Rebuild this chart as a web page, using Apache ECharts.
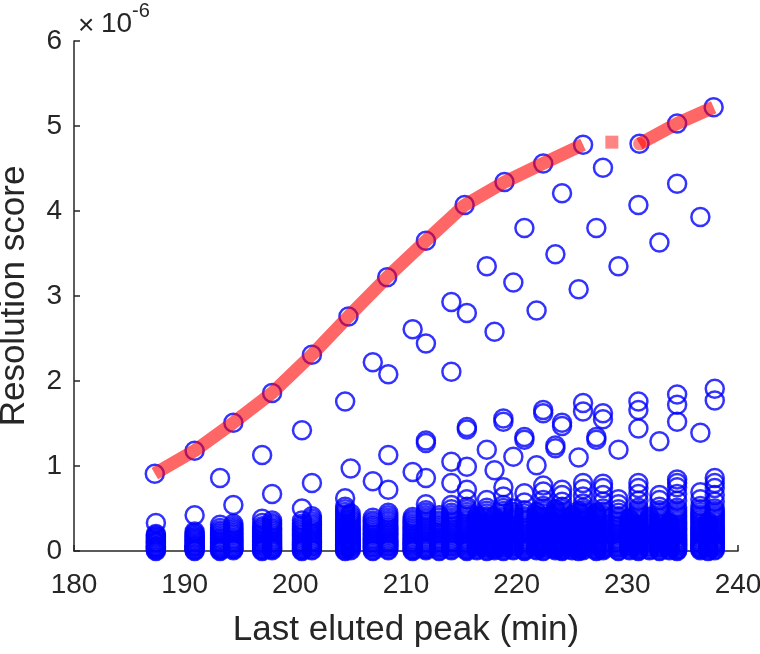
<!DOCTYPE html>
<html>
<head>
<meta charset="utf-8">
<script src="https://cdn.jsdelivr.net/npm/echarts@6/dist/echarts.min.js"></script>
<style>html,body{margin:0;padding:0;background:#fff}#c{width:760px;height:654px}</style>
</head>
<body>
<div id="c"></div>
<script>
// Values in units of 1e-6
const xTicks = [180, 190, 200, 210, 220, 230, 240];
const yTicks = [0, 1, 2, 3, 4, 5, 6];

// Upper envelope (red line), index 12 is the isolated point
const envX = [187.3, 190.9, 194.4, 197.9, 201.5, 204.8, 208.3, 211.8, 215.3, 218.9, 222.4, 226.0, 228.6, 231.1, 234.5, 237.8];
const envY = [0.91, 1.18, 1.51, 1.86, 2.31, 2.76, 3.22, 3.65, 4.07, 4.34, 4.56, 4.78, 4.81, 4.79, 5.03, 5.22];

// Scatter columns (x position and the scores found there)
const colX = [187.4, 190.9, 193.2, 194.4, 197.0, 197.9, 200.6, 201.5, 204.5, 205.0,
              207.0, 208.4, 210.6, 211.8, 213.0, 214.1, 215.5, 216.4, 217.3, 218.0,
              218.8, 219.7, 220.7, 221.8, 222.4, 223.5, 224.1, 225.0, 225.6, 226.0,
              227.2, 227.8, 229.2, 230.2, 231.0, 232.0, 232.9, 233.8, 234.5, 236.6,
              237.3, 237.9];
const colY = [
  [0.00,0.02,0.04,0.06,0.09,0.11,0.14,0.17,0.20,0.33],
  [0.00,0.02,0.05,0.07,0.10,0.13,0.16,0.19,0.23,0.42],
  [0.00,0.02,0.04,0.07,0.10,0.13,0.16,0.20,0.24,0.31,0.86],
  [0.01,0.03,0.06,0.09,0.12,0.15,0.19,0.23,0.27,0.32,0.54],
  [0.00,0.02,0.05,0.08,0.11,0.14,0.17,0.21,0.25,0.29,0.38,1.13],
  [0.01,0.03,0.06,0.09,0.12,0.16,0.20,0.24,0.28,0.33,0.67],
  [0.00,0.02,0.05,0.08,0.11,0.15,0.19,0.23,0.27,0.32,0.50,1.42],
  [0.01,0.04,0.07,0.10,0.13,0.17,0.21,0.25,0.30,0.35,0.41,0.80],
  [0.00,0.02,0.05,0.08,0.11,0.14,0.18,0.22,0.26,0.30,0.35,0.40,0.46,0.52,0.62,1.76],
  [0.01,0.04,0.07,0.10,0.13,0.16,0.20,0.24,0.28,0.33,0.38,0.44,0.97],
  [0.00,0.03,0.06,0.09,0.12,0.15,0.19,0.23,0.27,0.31,0.36,0.82,2.22],
  [0.01,0.04,0.07,0.10,0.13,0.17,0.21,0.25,0.29,0.34,0.39,0.45,0.72,1.13,2.08],
  [0.00,0.02,0.05,0.08,0.11,0.14,0.18,0.22,0.26,0.30,0.35,0.40,0.93,2.61],
  [0.01,0.03,0.06,0.09,0.12,0.16,0.20,0.24,0.28,0.32,0.37,0.42,0.48,0.55,0.86,1.27,1.30,2.44],
  [0.00,0.03,0.06,0.09,0.12,0.15,0.19,0.23,0.27,0.31,0.36,0.42],
  [0.01,0.04,0.07,0.10,0.13,0.17,0.21,0.25,0.29,0.34,0.39,0.45,0.54,0.80,1.05,2.11,2.93],
  [0.00,0.02,0.05,0.08,0.11,0.14,0.18,0.22,0.26,0.30,0.35,0.40,0.46,0.52,0.61,0.72,0.99,1.43,1.46,2.80],
  [0.01,0.04,0.07,0.10,0.14,0.18,0.22,0.26,0.31,0.36,0.41],
  [0.00,0.03,0.06,0.09,0.12,0.16,0.20,0.24,0.28,0.33,0.38,0.44,0.51,0.60,1.19,3.35],
  [0.02,0.05,0.08,0.12,0.16,0.20,0.25,0.30,0.35,0.40,0.95,2.58],
  [0.00,0.03,0.06,0.09,0.12,0.15,0.19,0.23,0.27,0.31,0.36,0.41,0.47,0.54,0.64,0.75,1.52,1.56],
  [0.01,0.04,0.07,0.10,0.14,0.18,0.22,0.26,0.30,0.35,0.40,0.46,0.50,1.11,3.16],
  [0.00,0.02,0.05,0.08,0.11,0.14,0.18,0.22,0.26,0.31,0.36,0.41,0.48,0.57,0.68,1.31,1.34,3.80],
  [0.01,0.04,0.07,0.10,0.13,0.17,0.21,0.25,0.29,0.34,0.39,0.46,1.01,2.83],
  [0.00,0.03,0.06,0.09,0.12,0.15,0.19,0.23,0.27,0.31,0.36,0.41,0.47,0.53,0.60,0.70,0.77,1.62,1.66],
  [0.01,0.03,0.06,0.09,0.13,0.17,0.21,0.25,0.29,0.34,0.39,0.45,0.49,1.21,1.24,3.49],
  [0.00,0.02,0.05,0.08,0.11,0.14,0.18,0.22,0.26,0.30,0.35,0.40,0.46,0.52,0.58,0.66,0.72,1.47,1.51,4.21],
  [0.01,0.04,0.07,0.10,0.14,0.18,0.22,0.27,0.32,0.37,0.42],
  [0.00,0.03,0.06,0.09,0.12,0.16,0.20,0.24,0.28,0.33,0.38,0.44,0.47,1.10,3.08],
  [0.01,0.04,0.07,0.10,0.13,0.17,0.21,0.25,0.29,0.34,0.39,0.45,0.51,0.56,0.64,0.73,0.80,1.64,1.74],
  [0.00,0.02,0.05,0.08,0.11,0.15,0.19,0.23,0.27,0.31,0.36,0.41,0.45,1.31,1.34,3.80],
  [0.01,0.03,0.06,0.09,0.12,0.16,0.20,0.24,0.28,0.33,0.38,0.43,0.50,0.58,0.66,0.74,0.79,1.55,1.62,4.51],
  [0.00,0.03,0.06,0.09,0.12,0.15,0.19,0.23,0.27,0.31,0.36,0.41,0.49,0.55,0.61,1.19,3.35],
  [0.01,0.04,0.07,0.11,0.15,0.19,0.23,0.28,0.33,0.38],
  [0.00,0.02,0.05,0.08,0.11,0.14,0.18,0.22,0.26,0.30,0.35,0.40,0.45,0.51,0.59,0.67,0.74,0.80,1.44,1.66,1.76,4.07],
  [0.01,0.04,0.08,0.12,0.16,0.20,0.25,0.30,0.35,0.40],
  [0.00,0.03,0.06,0.09,0.12,0.16,0.20,0.24,0.28,0.32,0.37,0.42,0.48,0.52,0.60,0.66,1.29,3.63],
  [0.01,0.04,0.07,0.11,0.15,0.19,0.23,0.28,0.33],
  [0.00,0.02,0.05,0.08,0.11,0.14,0.18,0.22,0.26,0.30,0.35,0.40,0.45,0.51,0.59,0.67,0.75,0.80,0.84,1.52,1.72,1.84,4.32],
  [0.01,0.03,0.06,0.09,0.12,0.16,0.20,0.24,0.28,0.33,0.38,0.43,0.49,0.53,0.61,0.69,1.39,3.93],
  [0.00,0.03,0.07,0.11,0.15,0.19,0.24,0.29,0.34],
  [0.01,0.04,0.07,0.10,0.13,0.17,0.21,0.25,0.29,0.34,0.39,0.44,0.50,0.58,0.66,0.74,0.80,0.86,1.77,1.91]
];
// Further low scores in the same columns (dense band near zero)
const lowY = [
  [0.01,0.03,0.05,0.075,0.10,0.125,0.155,0.185],
  [0.01,0.035,0.06,0.085,0.115,0.145,0.175,0.21],
  [0.01,0.03,0.055,0.085,0.115,0.145,0.18,0.22,0.27],
  [0.02,0.045,0.075,0.105,0.135,0.17,0.21,0.25,0.295],
  [0.01,0.035,0.065,0.095,0.125,0.155,0.19,0.23,0.27,0.33],
  [0.02,0.045,0.075,0.105,0.14,0.18,0.22,0.26,0.305,0.36],
  [0.01,0.035,0.065,0.095,0.13,0.17,0.21,0.25,0.295,0.36],
  [0.02,0.055,0.085,0.115,0.15,0.19,0.23,0.275,0.325,0.38],
  [0.01,0.035,0.065,0.095,0.125,0.16,0.20,0.24,0.28,0.325,0.375,0.43,0.49],
  [0.02,0.055,0.085,0.115,0.145,0.18,0.22,0.26,0.305,0.355,0.41],
  [0.01,0.045,0.075,0.105,0.135,0.17,0.21,0.25,0.29,0.335,0.39],
  [0.02,0.055,0.085,0.115,0.15,0.19,0.23,0.27,0.315,0.365,0.42],
  [0.01,0.035,0.065,0.095,0.125,0.16,0.20,0.24,0.28,0.325,0.375],
  [0.02,0.045,0.075,0.105,0.14,0.18,0.22,0.26,0.30,0.345,0.395,0.45],
  [0.01,0.045,0.075,0.105,0.135,0.17,0.21,0.25,0.29,0.335,0.39],
  [0.02,0.055,0.085,0.115,0.15,0.19,0.23,0.27,0.315,0.365,0.42,0.49],
  [0.01,0.035,0.065,0.095,0.125,0.16,0.20,0.24,0.28,0.325,0.375,0.43,0.49],
  [0.02,0.055,0.085,0.12,0.16,0.20,0.24,0.285,0.335,0.385],
  [0.01,0.045,0.075,0.105,0.14,0.18,0.22,0.26,0.305,0.355,0.41,0.475],
  [0.01,0.035,0.065,0.10,0.14,0.18,0.225,0.275,0.325,0.375],
  [0.01,0.045,0.075,0.105,0.135,0.17,0.21,0.25,0.29,0.335,0.385,0.44,0.505],
  [0.02,0.055,0.085,0.12,0.16,0.20,0.24,0.28,0.325,0.375,0.43],
  [0.01,0.035,0.065,0.095,0.125,0.16,0.20,0.24,0.285,0.335,0.385,0.445],
  [0.02,0.055,0.085,0.115,0.15,0.19,0.23,0.27,0.315,0.365,0.42],
  [0.01,0.045,0.075,0.105,0.135,0.17,0.21,0.25,0.29,0.335,0.385,0.44,0.50],
  [0.02,0.045,0.075,0.11,0.15,0.19,0.23,0.27,0.315,0.365,0.42],
  [0.01,0.035,0.065,0.095,0.125,0.16,0.20,0.24,0.28,0.325,0.375,0.43,0.49],
  [0.02,0.055,0.085,0.12,0.16,0.20,0.245,0.295,0.345,0.395],
  [0.01,0.045,0.075,0.105,0.14,0.18,0.22,0.26,0.305,0.355,0.41],
  [0.02,0.055,0.085,0.115,0.15,0.19,0.23,0.27,0.315,0.365,0.42,0.48],
  [0.01,0.035,0.065,0.095,0.13,0.17,0.21,0.25,0.29,0.335,0.385,0.43],
  [0.02,0.045,0.075,0.105,0.14,0.18,0.22,0.26,0.305,0.355,0.405,0.465],
  [0.01,0.045,0.075,0.105,0.135,0.17,0.21,0.25,0.29,0.335,0.385,0.45],
  [0.02,0.055,0.09,0.13,0.17,0.21,0.255,0.305,0.355],
  [0.01,0.035,0.065,0.095,0.125,0.16,0.20,0.24,0.28,0.325,0.375,0.425,0.48],
  [0.02,0.06,0.10,0.14,0.18,0.225,0.275,0.325,0.375],
  [0.01,0.045,0.075,0.105,0.14,0.18,0.22,0.26,0.30,0.345,0.395,0.45],
  [0.02,0.055,0.09,0.13,0.17,0.21,0.255,0.305],
  [0.01,0.035,0.065,0.095,0.125,0.16,0.20,0.24,0.28,0.325,0.375,0.425,0.48],
  [0.02,0.045,0.075,0.105,0.14,0.18,0.22,0.26,0.305,0.355,0.405,0.46],
  [0.01,0.05,0.09,0.13,0.17,0.215,0.265,0.315],
  [0.02,0.055,0.085,0.115,0.15,0.19,0.23,0.27,0.315,0.365,0.415,0.47]
];

const FONT = 'Liberation Sans, Arial, Helvetica, sans-serif';
const AX = '#262626';

const scatterData = [];
colX.forEach((x, i) => {
  colY[i].forEach(y => scatterData.push([x, y]));
  lowY[i].forEach(y => scatterData.push([x, y]));
});
envX.forEach((x, i) => { if (i !== 12) scatterData.push([x, envY[i]]); });

const seg1 = envX.slice(0, 12).map((x, i) => [x, envY[i]]);
const seg2 = envX.slice(13).map((x, i) => [x, envY[i + 13]]);
const isolated = [[envX[12], envY[12]]];
const segStart = [[envX[13], envY[13]]];

const chart = echarts.init(document.getElementById('c'), null, {renderer: 'canvas'});
chart.setOption({
  animation: false,
  backgroundColor: '#fff',
  grid: {left: 74, right: 22, top: 41, bottom: 103, containLabel: false, outerBoundsMode: 'none'},
  xAxis: {
    type: 'value', min: 180, max: 240, interval: 10,
    name: 'Last eluted peak (min)', nameLocation: 'middle', nameGap: 62,
    nameTextStyle: {fontFamily: FONT, fontSize: 35, color: AX},
    axisLine: {show: true, onZero: false, lineStyle: {color: AX, width: 1.5}},
    axisTick: {show: true, inside: true, length: 6, lineStyle: {color: AX, width: 1.5}},
    axisLabel: {fontFamily: FONT, fontSize: 28, color: AX, margin: 20,
      formatter: v => xTicks.includes(v) ? String(v) : ''},
    splitLine: {show: false}
  },
  yAxis: {
    type: 'value', min: 0, max: 6, interval: 1,
    name: 'Resolution score', nameLocation: 'middle', nameGap: 42,
    nameTextStyle: {fontFamily: FONT, fontSize: 35, color: AX},
    axisLine: {show: true, onZero: false, lineStyle: {color: AX, width: 1.5}},
    axisTick: {show: true, inside: true, length: 6, lineStyle: {color: AX, width: 1.5}},
    axisLabel: {fontFamily: FONT, fontSize: 28, color: AX, margin: 12,
      formatter: v => yTicks.includes(v) ? String(v) : ''},
    splitLine: {show: false}
  },
  graphic: [
    {type: 'text', left: 78, top: 12, style: {text: '×', font: '28px ' + FONT, fill: AX}},
    {type: 'text', left: 101, top: 10, style: {text: '10', font: '28px ' + FONT, fill: AX}},
    {type: 'text', left: 132, top: 1, style: {text: '-6', font: '20px ' + FONT, fill: AX}}
  ],
  series: [
    {
      type: 'scatter', data: scatterData, symbol: 'circle', symbolSize: 18,
      itemStyle: {color: 'rgba(0,0,0,0)', borderColor: '#0000ff', borderWidth: 2.5},
      z: 2, silent: true, large: false, progressive: 0
    },
    {
      type: 'line', data: seg1, showSymbol: false, symbol: 'none',
      lineStyle: {color: 'rgba(255,0,0,0.6)', width: 13, join: 'round'}, z: 3, silent: true
    },
    {
      type: 'line', data: seg2, showSymbol: false, symbol: 'none',
      lineStyle: {color: 'rgba(255,0,0,0.6)', width: 13, join: 'round'}, z: 3, silent: true
    },
    {
      type: 'scatter', data: isolated, symbol: 'rect', symbolSize: 13,
      itemStyle: {color: 'rgba(255,0,0,0.6)'}, z: 3, silent: true
    },
    {
      type: 'scatter', data: segStart, symbol: 'circle', symbolSize: 13,
      itemStyle: {color: 'rgba(255,0,0,0.6)'}, z: 4, silent: true
    }
  ]
});
</script>
</body>
</html>
